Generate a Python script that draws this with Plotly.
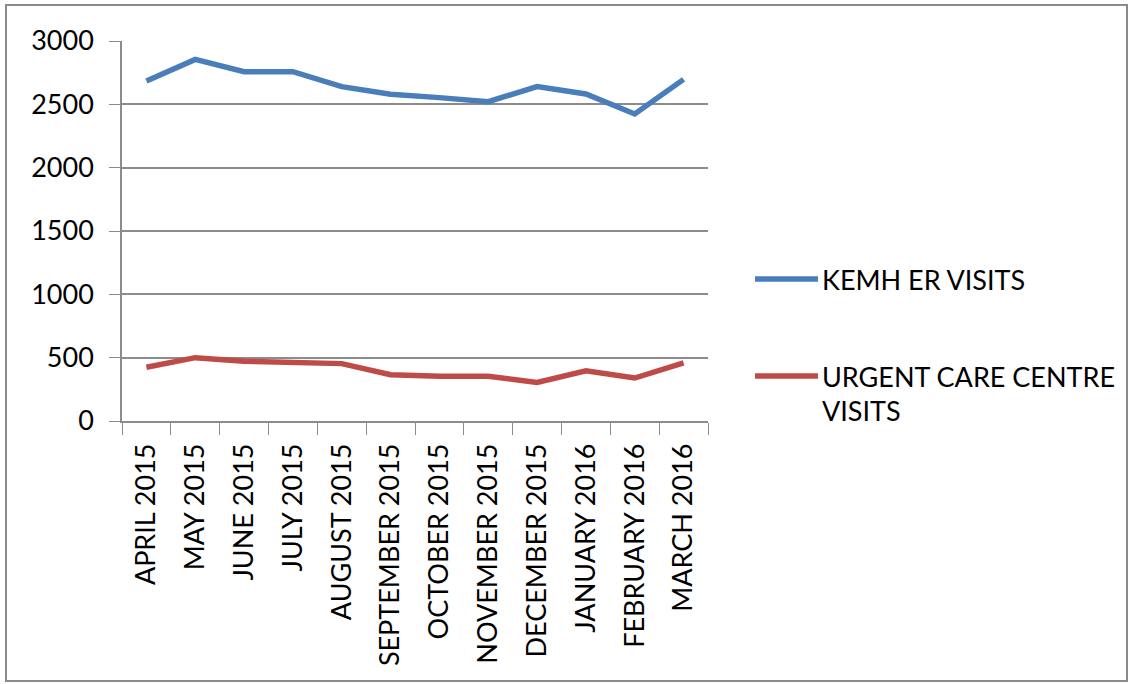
import plotly.graph_objects as go

months = ["APRIL 2015", "MAY 2015", "JUNE 2015", "JULY 2015", "AUGUST 2015",
          "SEPTEMBER 2015", "OCTOBER 2015", "NOVEMBER 2015", "DECEMBER 2015",
          "JANUARY 2016", "FEBRUARY 2016", "MARCH 2016"]
kemh_er = [2684, 2855, 2758, 2758, 2640, 2579, 2553, 2521, 2640, 2582, 2424, 2697]
urgent_care = [424, 500, 471, 463, 453, 366, 353, 353, 305, 397, 339, 458]
y_ticks = [0, 500, 1000, 1500, 2000, 2500, 3000]

BLUE = "#4A7EBB"
RED = "#BE4B48"
GRID = "#8C8C8C"
FONT = "Lato, Carlito, sans-serif"

L, R, T, B = 122, 424, 41, 263
PW, PH = 1132 - L - R, 684 - T - B

def px(x):
    return (x - L) / PW

def py(y):
    return (684 - B - y) / PH

fig = go.Figure()
fig.add_trace(go.Scatter(x=months, y=kemh_er, mode="lines", name="KEMH ER VISITS",
                         line=dict(color=BLUE, width=5.5)))
fig.add_trace(go.Scatter(x=months, y=urgent_care, mode="lines", name="URGENT CARE CENTRE VISITS",
                         line=dict(color=RED, width=5.5)))

fig.update_layout(
    width=1132, height=684,
    margin=dict(l=L, r=R, t=T, b=B),
    paper_bgcolor="white", plot_bgcolor="white",
    showlegend=False,
    font=dict(family=FONT, size=27, color="#000000"),
    xaxis=dict(type="category", range=[-0.5, 11.5], tickangle=-90,
               tickson="boundaries", ticks="outside", ticklen=12, tickcolor=GRID,
               showline=True, linecolor=GRID, linewidth=1.5, showgrid=False,
               ticklabelstandoff=10, tickfont=dict(size=27)),
    yaxis=dict(range=[0, 3000], tickvals=y_ticks, ticks="outside", ticklen=11,
               tickcolor=GRID, showline=True, linecolor=GRID, linewidth=1.5,
               showgrid=True, gridcolor=GRID, gridwidth=1.5, zeroline=False,
               ticklabelstandoff=10, tickfont=dict(size=27)),
)

# outer chart border
fig.add_shape(type="rect", xref="paper", yref="paper",
              x0=px(6), x1=px(1127), y0=py(681), y1=py(5),
              line=dict(color="#8A8A8A", width=2))

# legend
fig.add_shape(type="line", xref="paper", yref="paper",
              x0=px(755), x1=px(818), y0=py(279), y1=py(279),
              line=dict(color=BLUE, width=5.5))
fig.add_shape(type="line", xref="paper", yref="paper",
              x0=px(755), x1=px(818), y0=py(376), y1=py(376),
              line=dict(color=RED, width=5.5))
for text, yy in [("KEMH ER VISITS", 279), ("URGENT CARE CENTRE", 376), ("VISITS", 410)]:
    fig.add_annotation(text=text, xref="paper", yref="paper", x=px(820), y=py(yy),
                       xanchor="left", yanchor="middle", showarrow=False,
                       font=dict(family=FONT, size=27, color="#000000"))

fig.write_html("out.html", config={"displayModeBar": False},
               post_script="document.body.style.margin='0';document.body.style.overflow='hidden';")
